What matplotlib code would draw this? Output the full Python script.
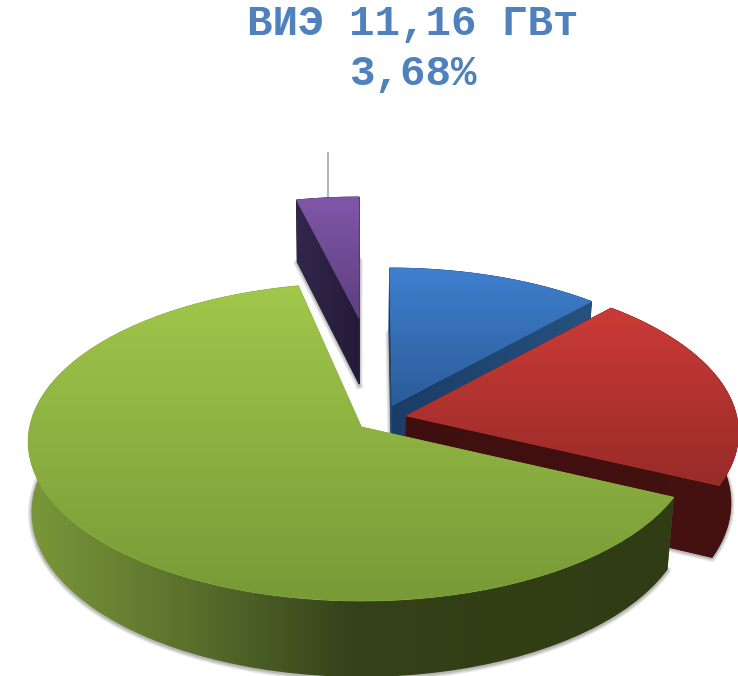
import numpy as np
import matplotlib
matplotlib.use('Agg')
import matplotlib.pyplot as plt
from matplotlib.path import Path

# shares of the pie, percent, clockwise from the top
names = ['blue', 'red', 'green', 'purple']
shares = [11.75, 20.30, 64.27, 3.68]
title_lines = ['ВИЭ 11,16 ГВт', '3,68%']

# how the pie is laid out on the picture
CX, CY = 360.0, 425.0
RX, RY, Q = 333.0, 158.0, 0.095
centers = {'blue': (0.098, -0.127), 'red': (0.14, -0.058), 'green': (0.004, 0.012), 'purple': (-0.003, -0.724)}
radius = {'blue': 0.97, 'red': 0.997, 'green': 0.995, 'purple': 0.948}
trim_end = {'blue': 0.0, 'red': 0.0, 'green': -1.3, 'purple': 0.0}
top_colors = {
    'blue': ('#3f80cf', '#2b5c98'),
    'red': ('#cb3b37', '#982b28'),
    'green': ('#a1c74b', '#789a37'),
    'purple': ('#8057a8', '#5e3e80'),
}
side_colors = {
    'blue': ('#1b3c66', '#27527f'),
    'red': ('#3f0f0f', '#451111'),
    'green': ('#7a983a', '#5a702c', '#34421a', '#323f15', '#303c14'),
    'purple': ('#33264c', '#241a36'),
}


def project(u, v):
    den = 1 - Q * v
    return CX + RX * u / den, CY + RY * v / den


def lower(x, y):
    shrink = np.where(np.asarray(x) > CX, 0.98, 0.99)
    return CX + (x - CX) * shrink, y + 62 + (y - 200) * 0.035


def fill_gradient(ax, pts, colors, vertical=True, zorder=2, edge=True):
    pts = np.asarray(pts)
    stops = np.array([matplotlib.colors.to_rgb(c) for c in colors])
    t = np.linspace(0, 1, 256)
    pos = np.linspace(0, 1, len(stops))
    grad = np.column_stack([np.interp(t, pos, stops[:, i]) for i in range(3)])
    grad = grad[:, None, :] if vertical else grad[None, :, :]
    x0, x1 = pts[:, 0].min(), pts[:, 0].max()
    y0, y1 = pts[:, 1].min(), pts[:, 1].max()
    if edge:
        ax.fill(pts[:, 0], pts[:, 1], facecolor=stops.mean(axis=0), edgecolor=stops.mean(axis=0), lw=0.6, zorder=zorder)
    im = ax.imshow(grad, extent=(x0, x1, y1, y0), aspect='auto', interpolation='bilinear', zorder=zorder)
    path = Path(np.vstack([pts, pts[0]]), closed=True)
    im.set_clip_path(path, transform=ax.transData)


fig = plt.figure(figsize=(7.38, 6.76), dpi=100)
ax = fig.add_axes([0, 0, 1, 1])

z = 2
start = 0.0
purple_mid = None
for name, share in zip(names, shares):
    end = start + share * 3.6
    th = np.radians(np.linspace(start, end - trim_end[name], 80))
    cu, cv = centers[name]
    r = radius[name]
    x, y = project(cu + r * np.sin(th), cv - r * np.cos(th))
    ax_, ay_ = project(cu, cv)
    bx, by = lower(x, y)
    abx, aby = lower(ax_, ay_)

    top = np.column_stack([np.r_[ax_, x], np.r_[ay_, y]])
    arc_side = np.column_stack([np.r_[x, bx[::-1]], np.r_[y, by[::-1]]])
    side_a = np.array([[ax_, ay_], [x[0], y[0]], [bx[0], by[0]], [abx, aby]])
    side_b = np.array([[ax_, ay_], [x[-1], y[-1]], [bx[-1], by[-1]], [abx, aby]])

    # soft shadow along the lower edges
    rim_x = np.r_[abx, bx, abx]
    rim_y = np.r_[aby, by, aby]
    for w in (1.5, 3.0, 5.0):
        ax.plot(rim_x, rim_y + 1, color='#000000', alpha=0.1, lw=w, solid_joinstyle='round', zorder=z)
    z += 1

    solid = len(side_colors[name]) == 2
    fill_gradient(ax, side_a, side_colors[name][:2], vertical=False, zorder=z, edge=solid)
    fill_gradient(ax, side_b, side_colors[name][:2], vertical=False, zorder=z, edge=solid)
    fill_gradient(ax, arc_side, side_colors[name], vertical=False, zorder=z, edge=solid)
    z += 1
    fill_gradient(ax, top, top_colors[name], vertical=True, zorder=z)
    z += 1

    if name == 'purple':
        purple_mid = (x[40], y[40])
    start = end

# leader line from the small slice up towards its label
ax.plot([purple_mid[0], purple_mid[0]], [purple_mid[1], 153], color='#a6a6a6', lw=1.2, zorder=1)

ax.text(412.5, 35, title_lines[0], family='Liberation Mono', weight='bold', fontsize=30.6,
        color='#4f81bd', ha='center', va='baseline')
ax.text(412.5, 85, title_lines[1], family='Liberation Mono', weight='bold', fontsize=30.6,
        color='#4f81bd', ha='center', va='baseline')

ax.set_xlim(0, 738)
ax.set_ylim(676, 0)
ax.axis('off')
fig.savefig('out.png', dpi=100)
